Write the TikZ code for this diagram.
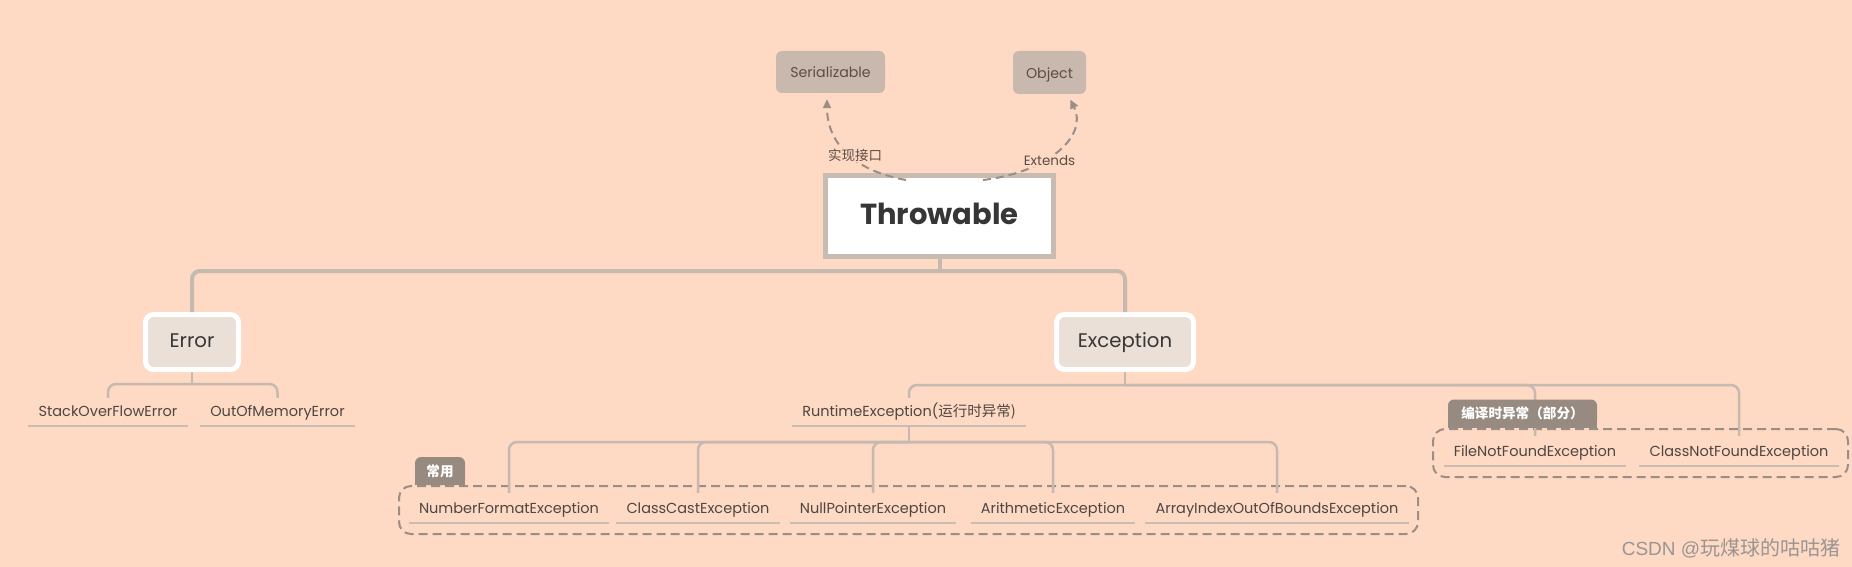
\documentclass[tikz,border=0pt]{standalone}
\usepackage{fontspec}
\setmainfont{Poppins}
\newfontfamily\cjk{Noto Sans CJK SC}
\newfontfamily\wmfont{Liberation Sans}
\usetikzlibrary{arrows.meta}
\definecolor{bgc}{HTML}{FED9C3}
\definecolor{linec}{HTML}{C6B9B0}
\definecolor{ulinec}{HTML}{C9BCB3}
\definecolor{dashc}{HTML}{9A8E87}
\definecolor{tabc}{HTML}{978A80}
\definecolor{topc}{HTML}{C8B8AD}
\definecolor{boxc}{HTML}{EBE0D7}
\definecolor{thrc}{HTML}{C8BCB2}
\definecolor{txtc}{HTML}{4E4642}
\definecolor{toptxt}{HTML}{5D4D46}
\definecolor{darktxt}{HTML}{363636}
\definecolor{wmc}{HTML}{9A9593}
\tikzset{
  topbox/.style={fill=topc, rounded corners=6pt, text=toptxt, inner sep=0pt,
    text height=12pt, text depth=0pt,
    font=\fontsize{14.2}{16}\selectfont},
  thrbox/.style={draw=thrc, line width=5pt, fill=white, inner sep=0pt,
    minimum width=228pt, minimum height=81pt, text=darktxt,
    text height=16.6pt, text depth=0pt,
    font=\bfseries\fontsize{29}{34}\selectfont},
  catbox/.style={draw=white, line width=5pt, fill=boxc, rounded corners=8pt,
    inner sep=0pt, minimum height=55pt, text=darktxt,
    text height=10.6pt, text depth=0pt,
    font=\fontsize{19.7}{22}\selectfont},
  leaf/.style={inner xsep=10pt, inner ysep=0pt, text height=18.5pt, text depth=9.5pt,
    text=txtc, font=\fontsize{14.5}{16}\selectfont},
  leafb/.style={leaf, text height=20.5pt},
  uline/.style={draw=ulinec, line width=2pt},
  mainline/.style={draw=linec, line width=4pt, rounded corners=8pt},
  subline/.style={draw=linec, line width=2.5pt, rounded corners=8pt},
  grpbox/.style={draw=dashc, line width=2pt, dash pattern=on 9pt off 5pt,
    rounded corners=12pt, inner sep=0pt},
  tabbox/.style={fill=tabc, rounded corners=6pt, inner sep=0pt, minimum height=28pt,
    text=white, font=\cjk\bfseries\fontsize{13.6}{15}\selectfont},
  dasharrow/.style={draw=dashc, line width=2pt, dash pattern=on 8pt off 5pt,
    -{Triangle[length=9pt,width=8pt]}, shorten >=6pt},
  arrlabel/.style={fill=bgc, inner sep=1pt, text=toptxt}
}
\begin{document}
\begin{tikzpicture}[x=1pt,y=-1pt]
\fill[bgc] (0,0) rectangle (1852,567);
\useasboundingbox (0,0) rectangle (1852,567);

% top nodes
\node[topbox, minimum width=109pt, minimum height=42pt] (ser) at (830.5,72) {Serializable};
\node[topbox, minimum width=73pt, minimum height=43pt] (obj) at (1049.5,72.5) {Object};
\node[thrbox] (thr) at (939.5,216) {Throwable};

% arrows
\coordinate (a1) at (906,180);
\coordinate (a2) at (983,180);
\draw[dasharrow] (a1) .. controls (850,170) and (827,140) .. ([xshift=-3.5pt]ser.south);
\draw[dasharrow] (a2) .. controls (1050,172) and (1088,135) .. ([xshift=18pt]obj.south);
\node[arrlabel, font=\cjk\fontsize{13.5}{16}\selectfont] (l1) at (855,155) {实现接口};
\node[arrlabel, font=\fontsize{13.5}{16}\selectfont] (l2) at (1049.5,161) {Extends};

% category boxes
\node[catbox, minimum width=93pt] (err) at (192,342) {Error};
\node[catbox, minimum width=137pt] (exc) at (1125,342) {Exception};

% Error children
\node[leaf] (sof) at (108,412) {StackOverFlowError};
\node[leaf] (oom) at (277.5,412) {OutOfMemoryError};

% Exception children
\node[leaf] (rt) at (909,412) {RuntimeException(\cjk 运行时异常)};

% group boxes
\node[grpbox, minimum width=1019pt, minimum height=48pt] (grp1) at (908.5,510) {};
\node[grpbox, minimum width=415pt, minimum height=48pt] (grp2) at (1640.5,453) {};

\node[leafb] (nfe) at (509,508) {NumberFormatException};
\node[leafb] (cce) at (698,508) {ClassCastException};
\node[leafb] (npe) at (873,508) {NullPointerException};
\node[leafb] (ae) at (1053,508) {ArithmeticException};
\node[leafb] (aio) at (1277,508) {ArrayIndexOutOfBoundsException};
\node[leafb] (fnf) at (1535,451) {FileNotFoundException};
\node[leafb] (cnf) at (1739,451) {ClassNotFoundException};

\foreach \n in {sof,oom,rt,nfe,cce,npe,ae,aio,fnf,cnf}
  \draw[uline] (\n.south west) -- (\n.south east);

% connectors
\coordinate (j0) at (939.5,271);
\draw[mainline] (thr.south) -- (j0);
\draw[mainline] (err.north) |- (j0) -| (exc.north);

\coordinate (j1) at (192,384);
\draw[subline] (err.south) -- (j1);
\draw[subline] (sof.north) |- (j1) -| (oom.north);

\coordinate (j2) at (1125,385);
\draw[subline] (exc.south) -- (j2);
\draw[subline] (rt.north) |- (j2) -| (cnf.north);
\draw[subline] (j2) -| (fnf.north);

\coordinate (j3) at (909,442);
\draw[subline] (rt.south) -- (j3);
\draw[subline] (nfe.north) |- (j3) -| (aio.north);
\draw[subline] (j3) -| (cce.north);
\draw[subline] (j3) -| (npe.north);
\draw[subline] (j3) -| (ae.north);

% tabs
\node[tabbox, minimum width=50pt] (tab1) at (440,471) {常用};
\fill[tabc] ([yshift=7pt]tab1.south west) rectangle (tab1.south east);
\node[tabbox, minimum width=149pt] (tab2) at (1522.5,413.5) {编译时异常（部分）};
\fill[tabc] ([yshift=7pt]tab2.south west) rectangle (tab2.south east);

% watermark
\node[text=wmc, inner sep=0pt, font=\wmfont\fontsize{19}{22}\selectfont] (wm) at (1731,548)
  {CSDN @{\cjk\fontsize{20}{22}\selectfont 玩煤球的咕咕猪}};
\end{tikzpicture}
\end{document}
